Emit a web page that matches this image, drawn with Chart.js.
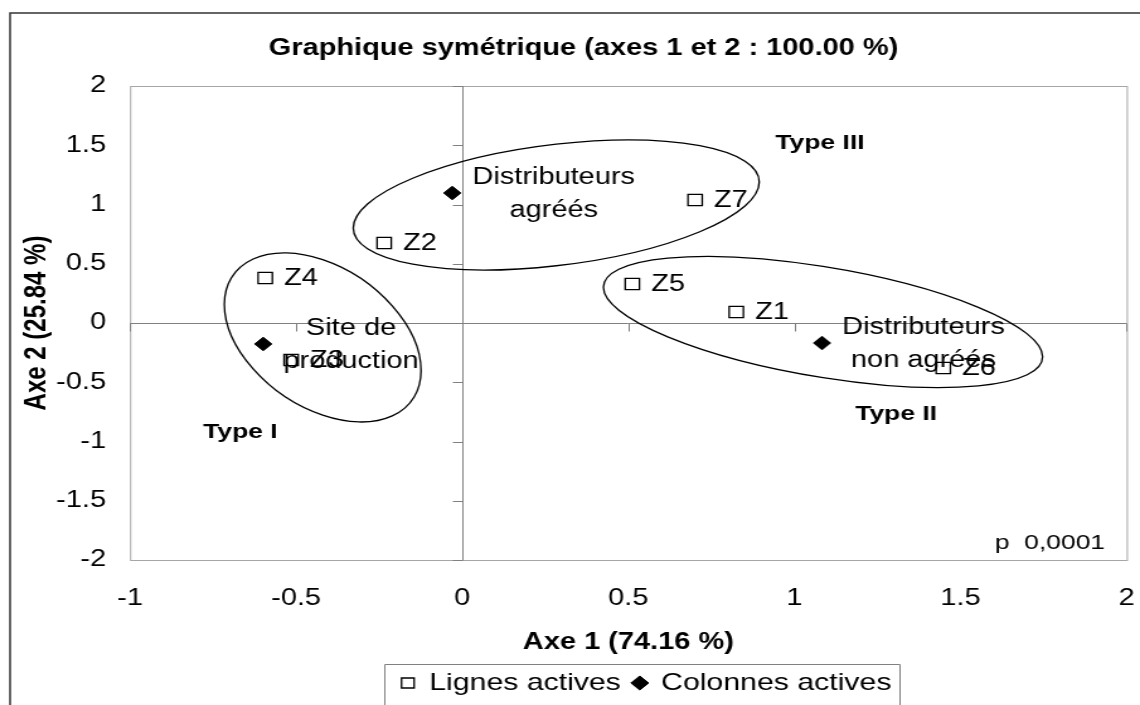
<!DOCTYPE html>
<html>
<head>
<meta charset="utf-8">
<script src="https://cdn.jsdelivr.net/npm/chart.js@4.4.1/dist/chart.umd.min.js"></script>
<style>
  html, body { margin: 0; padding: 0; background: #fff; overflow: hidden; }
  #chart { display: block; }
</style>
</head>
<body>
<!-- the reference is stretched sideways, so the canvas is drawn narrower and widened by css -->
<canvas id="chart" width="905" height="705" style="width:1140px;height:705px"></canvas>
<script>
const chartTitle = 'Graphique symétrique (axes 1 et 2 : 100.00 %)'
const xTitle = 'Axe 1 (74.16 %)'
const yTitle = 'Axe 2 (25.84 %)'

const xTickValues = [-1, -0.5, 0, 0.5, 1, 1.5, 2]
const xTickLabels = ['-1', '-0.5', '0', '0.5', '1', '1.5', '2']
const yTickValues = [-2, -1.5, -1, -0.5, 0, 0.5, 1, 1.5, 2]
const yTickLabels = ['-2', '-1.5', '-1', '-0.5', '0', '0.5', '1', '1.5', '2']

// lignes actives (zones)
const rowNames = ['Z1', 'Z2', 'Z3', 'Z4', 'Z5', 'Z6', 'Z7']
const rowAxe1 = [0.825, -0.235, -0.515, -0.593, 0.512, 1.448, 0.701]
const rowAxe2 = [0.093, 0.675, -0.312, 0.380, 0.329, -0.380, 1.038]

// colonnes actives
const colNames = [['Site de', 'production'], ['Distributeurs', 'agréés'], ['Distributeurs', 'non agréés']]
const colAxe1 = [-0.599, -0.030, 1.083]
const colAxe2 = [-0.177, 1.097, -0.169]

// groupings drawn by hand on the original, in axis units: centre and two conjugate half-axes
const groups = [
  { center: [0.283, 0.996], u: [0.611, 0.194], v: [0, 0.513] },
  { center: [-0.420, -0.122], u: [0.296, -0.280], v: [0, 0.656] },
  { center: [1.086, 0.008], u: [0.661, -0.293], v: [0, 0.469] }
]

const notes = [
  { text: 'Type III', x: 1.077, y: 1.519, bold: true },
  { text: 'Type II', x: 1.306, y: -0.768, bold: true },
  { text: 'Type I', x: -0.668, y: -0.92, bold: true },
  { text: 'p  0,0001', x: 1.769, y: -1.859, bold: false }
]

const FONT = "'Liberation Sans', Arial, sans-serif"
Chart.defaults.font.family = FONT
Chart.defaults.color = '#000'

const decor = {
  id: 'decor',
  afterLayout(chart) {
    // the excel chart centres title and legend on a wider frame than the picture
    chart.titleBlock.left += 16
    chart.titleBlock.right += 16
    chart.legend.left += 66
    chart.legend.right += 66
  },
  beforeDatasetsDraw(chart) {
    const { ctx, chartArea: a, scales: { x, y } } = chart
    ctx.save()
    ctx.lineWidth = 1
    ctx.strokeStyle = '#a6a6a6'
    ctx.strokeRect(a.left + 0.5, a.top + 0.5, a.right - a.left, a.bottom - a.top)

    // axes through the origin, with their little tick marks
    const x0 = Math.round(x.getPixelForValue(0)) + 0.5
    const y0 = Math.round(y.getPixelForValue(0)) + 0.5
    ctx.strokeStyle = '#808080'
    ctx.beginPath()
    ctx.moveTo(x0, a.top)
    ctx.lineTo(x0, a.bottom)
    ctx.moveTo(a.left, y0)
    ctx.lineTo(a.right, y0)
    y.ticks.forEach(t => {
      const py = Math.round(y.getPixelForValue(t.value)) + 0.5
      ctx.moveTo(x0 - 8, py)
      ctx.lineTo(x0, py)
    })
    x.ticks.forEach(t => {
      const px = Math.round(x.getPixelForValue(t.value)) + 0.5
      ctx.moveTo(px, y0)
      ctx.lineTo(px, y0 + 8)
    })
    ctx.stroke()

    ctx.strokeStyle = '#000'
    ctx.lineWidth = 1.3
    groups.forEach(g => {
      const cx = x.getPixelForValue(g.center[0])
      const cy = y.getPixelForValue(g.center[1])
      const ux = x.getPixelForValue(g.center[0] + g.u[0]) - cx
      const uy = y.getPixelForValue(g.center[1] + g.u[1]) - cy
      const vx = x.getPixelForValue(g.center[0] + g.v[0]) - cx
      const vy = y.getPixelForValue(g.center[1] + g.v[1]) - cy
      ctx.save()
      ctx.beginPath()
      ctx.transform(ux, uy, vx, vy, cx, cy)
      ctx.arc(0, 0, 1, 0, Math.PI * 2)
      ctx.restore()
      ctx.stroke()
    })
    ctx.restore()
  },
  afterDatasetsDraw(chart) {
    const { ctx, scales: { x, y } } = chart
    ctx.save()
    ctx.fillStyle = '#000'
    ctx.textBaseline = 'middle'
    ctx.font = `23px ${FONT}`

    ctx.textAlign = 'left'
    chart.getDatasetMeta(0).data.forEach((pt, i) => {
      ctx.fillText(rowNames[i], pt.x + 15, pt.y + 1)
    })

    ctx.textAlign = 'center'
    chart.getDatasetMeta(1).data.forEach((pt, i) => {
      const lines = colNames[i]
      const w = Math.max(...lines.map(l => ctx.measureText(l).width))
      lines.forEach((l, k) => ctx.fillText(l, pt.x + 16 + w / 2, pt.y - 15 + k * 33))
    })

    notes.forEach(n => {
      ctx.font = `${n.bold ? 'bold ' : ''}21px ${FONT}`
      ctx.fillText(n.text, x.getPixelForValue(n.x), y.getPixelForValue(n.y))
    })
    ctx.restore()
  },
  afterDraw(chart) {
    const { ctx } = chart
    ctx.save()
    // outer frame: only its left and top sides are inside the picture
    ctx.strokeStyle = '#333'
    ctx.lineWidth = 1.5
    ctx.beginPath()
    ctx.moveTo(8, chart.height)
    ctx.lineTo(8, 13)
    ctx.lineTo(chart.width, 13)
    ctx.stroke()

    const hb = chart.legend.legendHitBoxes
    const l = Math.round(Math.min(...hb.map(h => h.left)) - 14) + 0.5
    const r = Math.round(Math.max(...hb.map(h => h.left + h.width)) + 6) + 0.5
    const t = Math.round(hb[0].top - 7) + 0.5
    ctx.strokeStyle = '#808080'
    ctx.lineWidth = 1
    ctx.beginPath()
    ctx.moveTo(l, chart.height)
    ctx.lineTo(l, t)
    ctx.lineTo(r, t)
    ctx.lineTo(r, chart.height)
    ctx.stroke()
    ctx.restore()
  }
}

const chart = new Chart(document.getElementById('chart'), {
  type: 'scatter',
  data: {
    datasets: [{
      label: 'Lignes actives',
      data: rowNames.map((n, i) => ({ x: rowAxe1[i], y: rowAxe2[i] })),
      pointStyle: 'rect',
      pointRadius: 8,
      backgroundColor: '#fff',
      borderColor: '#000',
      borderWidth: 1.3
    }, {
      label: 'Colonnes actives',
      data: colNames.map((n, i) => ({ x: colAxe1[i], y: colAxe2[i] })),
      pointStyle: 'rectRot',
      pointRadius: 6.8,
      backgroundColor: '#000',
      borderColor: '#000',
      borderWidth: 1
    }]
  },
  options: {
    responsive: false,
    animation: false,
    events: [],
    layout: { padding: { left: 0, right: 10.6, top: 0, bottom: 0 } },
    plugins: {
      title: {
        display: true,
        text: chartTitle,
        color: '#000',
        font: { size: 23, weight: 'bold' },
        padding: { top: 35.2, bottom: 23.2 }
      },
      legend: {
        position: 'bottom',
        labels: {
          usePointStyle: true,
          boxWidth: 10,
          boxHeight: 10,
          padding: 10,
          color: '#000',
          font: { size: 24 }
        }
      },
      tooltip: { enabled: false }
    },
    scales: {
      x: {
        type: 'linear',
        min: -1,
        max: 2,
        afterBuildTicks: s => { s.ticks = xTickValues.map(v => ({ value: v })) },
        afterFit: s => { s.height = 101 },
        ticks: {
          callback: (v, i) => xTickLabels[i],
          autoSkip: false,
          maxRotation: 0,
          padding: 3,
          color: '#000',
          font: { size: 23 }
        },
        grid: { display: true, drawOnChartArea: false, drawTicks: true, tickLength: 21.9, color: 'transparent' },
        border: { display: false },
        title: {
          display: true,
          text: xTitle,
          color: '#000',
          font: { size: 23, weight: 'bold' },
          padding: { top: 0, bottom: 4.7 }
        }
      },
      y: {
        type: 'linear',
        min: -2,
        max: 2,
        afterBuildTicks: s => { s.ticks = yTickValues.map(v => ({ value: v })) },
        afterFit: s => { s.width = 103.2 },
        ticks: {
          callback: (v, i) => yTickLabels[i],
          autoSkip: false,
          padding: 19,
          color: '#000',
          font: { size: 23 }
        },
        grid: { display: false, drawTicks: false },
        border: { display: false },
        title: {
          display: true,
          text: yTitle,
          color: '#000',
          font: { size: 24, weight: 'bold' },
          padding: { top: 15, bottom: 0 }
        }
      }
    }
  },
  plugins: [decor]
})
chart.canvas.style.width = '1140px'
chart.canvas.style.height = '705px'
</script>
</body>
</html>
